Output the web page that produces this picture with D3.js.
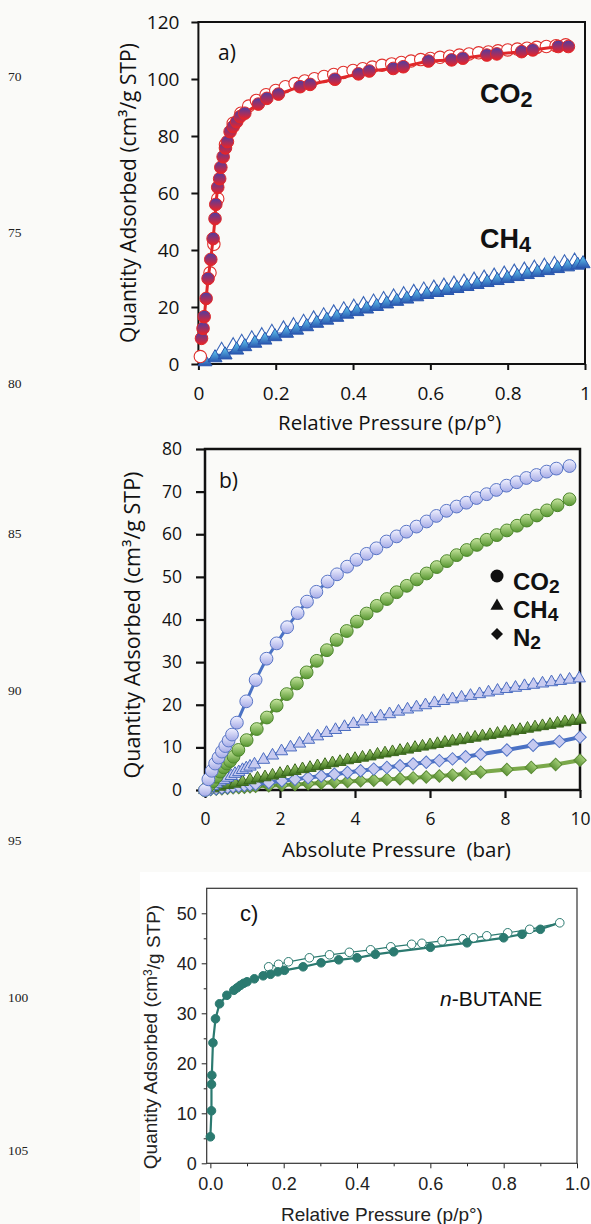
<!DOCTYPE html>
<html><head><meta charset="utf-8">
<script src="https://cdn.jsdelivr.net/npm/d3@7"></script>
<style>
html,body{margin:0;padding:0;background:#fafaf8;}
svg{display:block;}
</style></head><body>
<svg id="chart" width="591" height="1224"></svg>
<script>
// ---------------- DATA ----------------
// Panel a: relative pressure vs quantity adsorbed
const aCO2Ads = [[0.008,9],[0.012,12.5],[0.015,16.6],[0.02,23],[0.025,30],[0.032,36.7],[0.038,44],[0.043,51],[0.045,56],[0.05,62],[0.055,65],[0.058,69],[0.064,72.7],[0.07,75.8],[0.075,78],[0.082,81.5],[0.09,83.3],[0.099,85],[0.108,86.8],[0.12,88],[0.155,91.2],[0.177,93.2],[0.207,94.7],[0.263,97.3],[0.289,98.1],[0.353,99.9],[0.414,101.8],[0.442,102.8],[0.504,103.7],[0.53,104.3],[0.595,106.3],[0.655,106.7],[0.684,107.3],[0.746,108.4],[0.772,108.8],[0.836,109.6],[0.865,110.2],[0.931,111.4],[0.957,111.4]];
const aCO2Des = [[0.005,2.6],[0.03,32],[0.04,42],[0.05,58],[0.07,77],[0.09,84.5],[0.11,88],[0.13,90.5],[0.15,92.5],[0.175,94.5],[0.2,96],[0.225,97.3],[0.25,98.4],[0.275,99.3],[0.3,100.1],[0.325,100.9],[0.35,101.6],[0.375,102.3],[0.4,103],[0.425,103.6],[0.45,104.2],[0.475,104.8],[0.5,105.3],[0.525,105.8],[0.55,106.3],[0.575,106.8],[0.6,107.2],[0.625,107.6],[0.65,108],[0.675,108.4],[0.7,108.8],[0.725,109.2],[0.75,109.5],[0.775,109.9],[0.8,110.2],[0.825,110.5],[0.85,110.8],[0.875,111.1],[0.9,111.4],[0.925,111.7],[0.95,112]];
const aCH4Ads = [[0.017,0.8],[0.043,2.2],[0.069,3.2],[0.099,4.9],[0.12,6.1],[0.146,7.3],[0.172,8.4],[0.198,9.6],[0.228,10.8],[0.254,11.9],[0.28,13.1],[0.306,14.3],[0.332,15.4],[0.358,16.4],[0.384,17.5],[0.41,18.4],[0.435,19.3],[0.461,20.2],[0.487,21.1],[0.513,22],[0.539,22.8],[0.565,23.6],[0.591,24.4],[0.617,25.1],[0.643,25.8],[0.669,26.5],[0.695,27.2],[0.721,27.9],[0.747,28.6],[0.773,29.3],[0.799,30],[0.825,30.7],[0.851,31.4],[0.877,32.1],[0.903,32.8],[0.929,33.5],[0.955,34.1],[0.981,34.7],[0.995,35.2]];
const aCH4Des = [[0.06,4.8],[0.09,6.4],[0.112,7.6],[0.138,8.8],[0.164,9.9],[0.19,11.1],[0.22,12.3],[0.246,13.4],[0.272,14.6],[0.298,15.8],[0.324,16.9],[0.35,17.9],[0.376,19],[0.402,19.9],[0.427,20.8],[0.453,21.7],[0.479,22.6],[0.505,23.5],[0.531,24.3],[0.557,25.1],[0.583,25.9],[0.609,26.6],[0.635,27.3],[0.661,28],[0.687,28.7],[0.713,29.4],[0.739,30.1],[0.765,30.8],[0.791,31.5],[0.817,32.2],[0.843,32.9],[0.869,33.6],[0.895,34.3],[0.921,34.9],[0.947,35.5],[0.973,36.1]];
const aXTicks = [0,0.2,0.4,0.6,0.8,1];
const aXLabels = ["0","0.2","0.4","0.6","0.8","1"];
const aYTicks = [0,20,40,60,80,100,120];

// Panel b: absolute pressure (bar)
const bCO2Blue = [[0,0],[0.09,2.5],[0.18,4.5],[0.27,6.2],[0.36,7.6],[0.45,9],[0.54,10.3],[0.63,11.6],[0.72,13],[0.85,15.8],[1.1,20.8],[1.35,25.8],[1.64,30.8],[1.91,34.4],[2.19,38.2],[2.47,41.5],[2.72,44.2],[2.97,46.5],[3.27,48.9],[3.52,50.6],[3.79,52.4],[4.04,54],[4.31,55.4],[4.57,56.7],[4.84,58.3],[5.11,59.5],[5.37,60.6],[5.64,61.8],[5.91,63],[6.17,64.3],[6.44,65.5],[6.71,66.5],[6.97,67.4],[7.24,68.5],[7.51,69.4],[7.77,70.4],[8.04,71.4],[8.31,72.2],[8.57,73.2],[8.84,73.9],[9.11,74.7],[9.37,75.4],[9.72,76]];
const bCO2Green = [[0,0],[0.1,1],[0.2,2],[0.3,3.1],[0.4,4.3],[0.5,5.3],[0.58,6.2],[0.67,6.8],[0.76,7.8],[0.89,9.4],[1.11,11.7],[1.38,14.3],[1.65,17],[1.91,19.8],[2.18,22.5],[2.45,25],[2.71,27.6],[2.98,30.3],[3.25,32.8],[3.51,35.2],[3.78,37.3],[4.05,39.5],[4.31,41.4],[4.58,43.2],[4.85,44.8],[5.11,46.4],[5.38,47.9],[5.65,49.4],[5.91,50.8],[6.18,52.3],[6.45,53.7],[6.71,55.1],[6.98,56.3],[7.25,57.5],[7.51,58.7],[7.78,59.8],[8.05,60.9],[8.32,62],[8.58,63.2],[8.85,64.4],[9.12,65.6],[9.4,66.8],[9.72,68.2]];
const bCH4Blue = [[0,0],[0.1,0.5],[0.2,1],[0.3,1.5],[0.4,2],[0.5,2.4],[0.6,2.9],[0.7,3.3],[0.8,3.8],[0.9,4.2],[1.0,4.7],[1.1,5.1],[1.2,5.5],[1.32,6.0],[1.56,7.1],[1.8,8.1],[2.04,9.1],[2.28,10],[2.52,10.9],[2.76,11.8],[3.0,12.6],[3.24,13.4],[3.48,14.1],[3.72,14.8],[3.96,15.5],[4.2,16.1],[4.44,16.7],[4.68,17.3],[4.92,17.8],[5.16,18.4],[5.4,18.9],[5.64,19.4],[5.88,19.9],[6.12,20.4],[6.36,20.9],[6.6,21.3],[6.84,21.7],[7.08,22.1],[7.32,22.5],[7.56,22.9],[7.8,23.3],[8.04,23.7],[8.28,24],[8.52,24.4],[8.76,24.7],[9.0,25],[9.24,25.3],[9.48,25.6],[9.72,25.9],[9.98,26.2]];
const bCH4Green = [[0,0],[0.2,0.4],[0.4,0.8],[0.6,1.2],[0.8,1.5],[1.0,1.9],[1.2,2.3],[1.4,2.7],[1.6,3.0],[1.8,3.4],[2.0,3.8],[2.2,4.2],[2.4,4.5],[2.6,4.9],[2.8,5.2],[3.0,5.6],[3.2,5.9],[3.4,6.3],[3.6,6.6],[3.8,7.0],[4.0,7.3],[4.2,7.6],[4.4,7.9],[4.6,8.3],[4.8,8.6],[5.0,8.9],[5.2,9.2],[5.4,9.5],[5.6,9.9],[5.8,10.2],[6.0,10.5],[6.2,10.8],[6.4,11.1],[6.6,11.4],[6.8,11.7],[7.0,12.0],[7.2,12.3],[7.4,12.6],[7.6,12.9],[7.8,13.2],[8.0,13.5],[8.2,13.8],[8.4,14.1],[8.6,14.4],[8.8,14.7],[9.0,15.0],[9.2,15.3],[9.4,15.6],[9.6,15.9],[9.8,16.2],[10.0,16.5]];
const bN2Blue = [[0,0],[0.15,0.15],[0.3,0.3],[0.45,0.45],[0.6,0.6],[0.75,0.75],[0.9,0.9],[1.05,1.05],[1.2,1.2],[1.35,1.35],[1.7,1.75],[2.05,2.15],[2.4,2.5],[2.75,2.9],[3.1,3.3],[3.45,3.7],[3.8,4.1],[4.15,4.5],[4.5,4.9],[4.85,5.3],[5.2,5.7],[5.55,6.1],[5.9,6.5],[6.25,6.9],[6.6,7.3],[6.95,7.8],[7.35,8.4],[8.05,9.4],[8.75,10.5],[9.45,11.4],[10,12.4]];
const bN2Green = [[0,0],[0.15,0.1],[0.3,0.2],[0.45,0.3],[0.6,0.4],[0.75,0.5],[0.9,0.55],[1.05,0.65],[1.2,0.75],[1.35,0.85],[1.7,1.0],[2.05,1.15],[2.4,1.3],[2.75,1.45],[3.1,1.65],[3.45,1.8],[3.8,2.0],[4.15,2.15],[4.5,2.3],[4.85,2.5],[5.2,2.65],[5.55,2.85],[5.9,3.05],[6.25,3.3],[6.6,3.5],[6.95,3.8],[7.35,4.2],[8.05,4.8],[8.7,5.3],[9.35,6.0],[10,7.0]];
const bXTicks = [0,2,4,6,8,10];
const bYTicks = [0,10,20,30,40,50,60,70,80];

// Panel c: n-butane
const cAds = [[0.0,5.3],[0.003,10.5],[0.003,15.8],[0.004,17.6],[0.007,24.1],[0.014,28.9],[0.025,31.9],[0.045,33.6],[0.064,34.6],[0.073,35.1],[0.082,35.6],[0.091,36],[0.1,36.3],[0.12,36.9],[0.144,37.5],[0.164,37.8],[0.184,38.3],[0.202,38.6],[0.253,39.3],[0.302,40.1],[0.35,40.7],[0.4,41.1],[0.45,41.8],[0.5,42.3],[0.6,43.2],[0.7,44.1],[0.8,45.1],[0.85,45.8],[0.9,46.8]];
const cDes = [[0.953,48.1],[0.871,46.8],[0.811,46.1],[0.754,45.5],[0.718,45.1],[0.689,44.9],[0.632,44.5],[0.577,44],[0.549,43.8],[0.492,43.3],[0.437,42.7],[0.379,42.2],[0.325,41.7],[0.27,41.1],[0.213,40.3],[0.186,39.8],[0.159,39.3]];
const cXTicks = [0,0.2,0.4,0.6,0.8,1.0];
const cXMinor = [0.1,0.3,0.5,0.7,0.9];
const cYTicks = [0,10,20,30,40,50];
const cYMinor = [5,15,25,35,45];

const lineNumbers = ["70","75","80","85","90","95","100","105"];
const lineNumberY = [76,232,383,533,690,840,997,1150];

// ---------------- DRAW ----------------
const svg = d3.select("#chart");
const defs = svg.append("defs");
function grad(id, top, bottom){
  const g = defs.append("linearGradient").attr("id",id).attr("x1",0).attr("y1",0).attr("x2",0).attr("y2",1);
  g.append("stop").attr("offset","0%").attr("stop-color",top);
  g.append("stop").attr("offset","100%").attr("stop-color",bottom);
}
grad("gCO2a","#4a3ea6","#ec2226");
grad("gCH4a","#62d0f4","#2a56ae");
grad("gBlueB","#f2f2ff","#a4aae6");
grad("gGreenB","#c8e6a0","#55952f");
grad("gGreenTri","#a9d374","#3f7420");
grad("gGreenDia","#a6d07a","#5f9438");

// panel c white backdrop
svg.append("rect").attr("x",140).attr("y",872).attr("width",451).attr("height",352).attr("fill","#ffffff");

// line numbers
svg.append("g").selectAll("text").data(lineNumbers).join("text")
  .attr("x",8).attr("y",(d,i)=>lineNumberY[i]).attr("dy","0.35em")
  .style("font-family","'Liberation Serif', 'DejaVu Serif', serif").style("font-size","13.5px").attr("fill","#222")
  .text(d=>d);

const tri = d3.symbol().type(d3.symbolTriangle);
const sq = d3.symbol().type(d3.symbolSquare);

function styleAxis(g, font, size, color){
  g.select(".domain").remove();
  g.selectAll("text").style("font-family",font).style("font-size",size+"px").attr("fill",color);
  g.selectAll("line").attr("stroke",color);
}

// ===== Panel a =====
const OS = "'Open Sans', 'Liberation Sans', sans-serif";
const xA = d3.scaleLinear().domain([0,1]).range([198.4,585]);
const yA = d3.scaleLinear().domain([0,120]).range([364,22]);
const pa = svg.append("g");
pa.append("g").attr("transform","translate(198.4,0)")
  .call(d3.axisLeft(yA).tickValues(aYTicks).tickSize(7).tickPadding(12).tickSizeOuter(0))
  .call(g=>styleAxis(g,OS,19,"#111"))
  .call(g=>g.selectAll("line").attr("stroke-width",2));
pa.append("g").attr("transform","translate(0,364)")
  .call(d3.axisBottom(xA).tickValues(aXTicks).tickFormat((d,i)=>aXLabels[i]).tickSize(6).tickPadding(17).tickSizeOuter(0))
  .call(g=>styleAxis(g,OS,19,"#111"))
  .call(g=>g.selectAll("line").attr("stroke-width",2));
pa.append("rect").attr("x",xA(0)).attr("y",yA(120)).attr("width",xA(1)-xA(0)).attr("height",yA(0)-yA(120))
  .attr("fill","none").attr("stroke","#111").attr("stroke-width",2);

const lineA = d3.line().x(d=>xA(d[0])).y(d=>yA(d[1]));
// CH4
pa.append("path").datum(aCH4Ads).attr("d",lineA).attr("fill","none").attr("stroke","#2c56ae").attr("stroke-width",3);
pa.append("g").selectAll("path").data(aCH4Des).join("path")
  .attr("transform",d=>`translate(${xA(d[0])},${yA(d[1])})`).attr("d",tri.size(85)())
  .attr("fill","#ffffff").attr("stroke","#3a66b8").attr("stroke-width",1.1);
pa.append("g").selectAll("path").data(aCH4Ads).join("path")
  .attr("transform",d=>`translate(${xA(d[0])},${yA(d[1])})`).attr("d",tri.size(85)())
  .attr("fill","url(#gCH4a)").attr("stroke","#2a56ae").attr("stroke-width",1);
// CO2
pa.append("g").selectAll("circle").data(aCO2Des).join("circle")
  .attr("cx",d=>xA(d[0])).attr("cy",d=>yA(d[1])).attr("r",6.2)
  .attr("fill","#ffffff").attr("stroke","#e0302c").attr("stroke-width",1.1);
pa.append("path").datum(aCO2Ads).attr("d",lineA).attr("fill","none").attr("stroke","#e0282a").attr("stroke-width",3);
pa.append("g").selectAll("circle").data(aCO2Ads).join("circle")
  .attr("cx",d=>xA(d[0])).attr("cy",d=>yA(d[1])).attr("r",6.3)
  .attr("fill","url(#gCO2a)").attr("stroke","#e0282a").attr("stroke-width",1);

// texts a
pa.append("text").attr("x",218).attr("y",60).style("font-family",OS).style("font-size","21px").attr("fill","#111").text("a)");
function chemLabel(g, x, y, main, sub, size, font){
  const t = g.append("text").attr("x",x).attr("y",y).style("font-family",font).style("font-weight","bold").style("font-size",size+"px").attr("fill","#111");
  t.append("tspan").text(main);
  t.append("tspan").attr("dy","0.18em").style("font-size",(size*0.8)+"px").text(sub);
  return t;
}
const AB = "'Liberation Sans', Arial, sans-serif";
chemLabel(pa,480,103,"CO","2",27,AB);
chemLabel(pa,480,248,"CH","4",27,AB);

pa.append("text").attr("x",(xA(0)+xA(1))/2-2).attr("y",430).attr("text-anchor","middle")
  .style("font-family",OS).style("font-size","20.5px").attr("fill","#111").text("Relative Pressure (p/p°)");
pa.append("text").attr("transform","translate(136,193) rotate(-90)").attr("text-anchor","middle")
  .style("font-family",OS).style("font-size","21px").attr("fill","#111").text("Quantity Adsorbed (cm³/g STP)");

// ===== Panel b =====
const xB = d3.scaleLinear().domain([0,10]).range([205,580]);
const yB = d3.scaleLinear().domain([0,80]).range([790,449]);
const pb = svg.append("g");
pb.append("g").attr("transform","translate(205,0)")
  .call(d3.axisLeft(yB).tickValues(bYTicks).tickSize(9).tickPadding(14).tickSizeOuter(0))
  .call(g=>styleAxis(g,OS,17.5,"#111"))
  .call(g=>g.selectAll("line").attr("stroke-width",2.2));
pb.append("g").attr("transform","translate(0,790)")
  .call(d3.axisBottom(xB).tickValues(bXTicks).tickSize(8).tickPadding(15).tickSizeOuter(0))
  .call(g=>styleAxis(g,OS,17.5,"#111"))
  .call(g=>g.selectAll("line").attr("stroke-width",2.2));
pb.append("rect").attr("x",xB(0)).attr("y",yB(80)).attr("width",xB(10)-xB(0)).attr("height",yB(0)-yB(80))
  .attr("fill","none").attr("stroke","#111").attr("stroke-width",2.5);

const lineB = d3.line().x(d=>xB(d[0])).y(d=>yB(d[1]));
function bLine(data,color,w){ pb.append("path").datum(data).attr("d",lineB).attr("fill","none").attr("stroke",color).attr("stroke-width",w); }
function bDiamonds(data,fill,stroke){
  pb.append("g").selectAll("path").data(data).join("path")
    .attr("transform",d=>`translate(${xB(d[0])},${yB(d[1])}) rotate(45)`).attr("d",sq.size(78)())
    .attr("fill",fill).attr("stroke",stroke).attr("stroke-width",1);
}
function bTriangles(data,fill,stroke){
  pb.append("g").selectAll("path").data(data).join("path")
    .attr("transform",d=>`translate(${xB(d[0])},${yB(d[1])})`).attr("d",tri.size(66)())
    .attr("fill",fill).attr("stroke",stroke).attr("stroke-width",1);
}
function bCircles(data,fill,stroke){
  pb.append("g").selectAll("circle").data(data).join("circle")
    .attr("cx",d=>xB(d[0])).attr("cy",d=>yB(d[1])).attr("r",6.4)
    .attr("fill",fill).attr("stroke",stroke).attr("stroke-width",1);
}
bLine(bN2Green,"#7aa84a",4); bDiamonds(bN2Green,"url(#gGreenDia)","#5a8a34");
bLine(bN2Blue,"#4a72c4",4); bDiamonds(bN2Blue,"#c6caf0","#5072c4");
bLine(bCH4Green,"#3d6b1f",3); bTriangles(bCH4Green,"url(#gGreenTri)","#3a661c");
bLine(bCH4Blue,"#4a6cc0",3); bTriangles(bCH4Blue,"#c8cbf0","#4a6cc0");
bLine(bCO2Green,"#5a8f34",3); bCircles(bCO2Green,"url(#gGreenB)","#4c862c");
bLine(bCO2Blue,"#4a72c4",3); bCircles(bCO2Blue,"url(#gBlueB)","#5a76c6");

pb.append("text").attr("x",219).attr("y",488).style("font-family",OS).style("font-size","21px").attr("fill","#111").text("b)");
// legend
pb.append("circle").attr("cx",497).attr("cy",576).attr("r",6.5).attr("fill","#111");
pb.append("path").attr("transform","translate(497,606)").attr("d",tri.size(75)()).attr("fill","#111");
pb.append("path").attr("transform","translate(497,634) rotate(45)").attr("d",sq.size(72)()).attr("fill","#111");
chemLabel(pb,513,590,"CO","2",24,AB);
chemLabel(pb,513,618,"CH","4",24,AB);
chemLabel(pb,513,646,"N","2",24,AB);

pb.append("text").attr("x",(xB(0)+xB(10))/2+4).attr("y",857).attr("text-anchor","middle").style("white-space","pre")
  .style("font-family",OS).style("font-size","20.5px").attr("fill","#111").text("Absolute Pressure  (bar)");
pb.append("text").attr("transform","translate(140,625) rotate(-90)").attr("text-anchor","middle")
  .style("font-family",OS).style("font-size","21.5px").attr("fill","#111").text("Quantity Adsorbed (cm³/g STP)");

// ===== Panel c =====
const AR = "'Liberation Sans', Arial, sans-serif";
const xC = d3.scaleLinear().domain([-0.01,1.0]).range([206.7,577]);
const yC = d3.scaleLinear().domain([0,55]).range([1163.3,888.3]);
const pc = svg.append("g");
pc.append("g").attr("transform","translate(206.7,0)")
  .call(d3.axisLeft(yC).tickValues(cYTicks).tickSize(5).tickPadding(5).tickSizeOuter(0))
  .call(g=>styleAxis(g,AR,18,"#222"));
pc.append("g").attr("transform","translate(206.7,0)")
  .call(d3.axisLeft(yC).tickValues(cYMinor).tickSize(3).tickFormat("").tickSizeOuter(0))
  .call(g=>styleAxis(g,AR,18,"#222"));
pc.append("g").attr("transform","translate(0,1163.3)")
  .call(d3.axisBottom(xC).tickValues(cXTicks).tickFormat(d3.format(".1f")).tickSize(5).tickPadding(9).tickSizeOuter(0))
  .call(g=>styleAxis(g,AR,18,"#222"));
pc.append("g").attr("transform","translate(0,1163.3)")
  .call(d3.axisBottom(xC).tickValues(cXMinor).tickSize(3).tickFormat("").tickSizeOuter(0))
  .call(g=>styleAxis(g,AR,18,"#222"));
pc.append("rect").attr("x",xC(-0.01)).attr("y",yC(55)).attr("width",xC(1)-xC(-0.01)).attr("height",yC(0)-yC(55))
  .attr("fill","none").attr("stroke","#333").attr("stroke-width",1.2);

const lineC = d3.line().x(d=>xC(d[0])).y(d=>yC(d[1]));
const teal = "#2b7a70";
pc.append("path").datum(cDes.concat([cAds[14]])).attr("d",lineC).attr("fill","none").attr("stroke",teal).attr("stroke-width",1.2);
pc.append("path").datum(cAds.concat([cDes[0]])).attr("d",lineC).attr("fill","none").attr("stroke",teal).attr("stroke-width",2.2);
pc.append("g").selectAll("circle").data(cDes).join("circle")
  .attr("cx",d=>xC(d[0])).attr("cy",d=>yC(d[1])).attr("r",4.3)
  .attr("fill","#ffffff").attr("stroke",teal).attr("stroke-width",1);
pc.append("g").selectAll("circle").data(cAds).join("circle")
  .attr("cx",d=>xC(d[0])).attr("cy",d=>yC(d[1])).attr("r",4.3)
  .attr("fill",teal).attr("stroke",teal).attr("stroke-width",1);

pc.append("text").attr("x",240).attr("y",921).style("font-family",AR).style("font-size","22px").attr("fill","#111").text("c)");
const nb = pc.append("text").attr("x",440).attr("y",1006).style("font-family",AR).style("font-size","21px").attr("fill","#111");
nb.append("tspan").style("font-style","italic").text("n");
nb.append("tspan").text("-BUTANE");

pc.append("text").attr("x",382).attr("y",1221).attr("text-anchor","middle")
  .style("font-family",AR).style("font-size","19px").attr("fill","#222").text("Relative Pressure (p/p°)");
const yt = pc.append("text").attr("transform","translate(157,1037) rotate(-90)").attr("text-anchor","middle")
  .style("font-family",AR).style("font-size","19px").attr("fill","#222");
yt.append("tspan").text("Quantity Adsorbed (cm");
yt.append("tspan").attr("dy","-0.45em").style("font-size","12px").text("3");
yt.append("tspan").attr("dy","0.45em").text("/g STP)");
</script>
</body></html>
